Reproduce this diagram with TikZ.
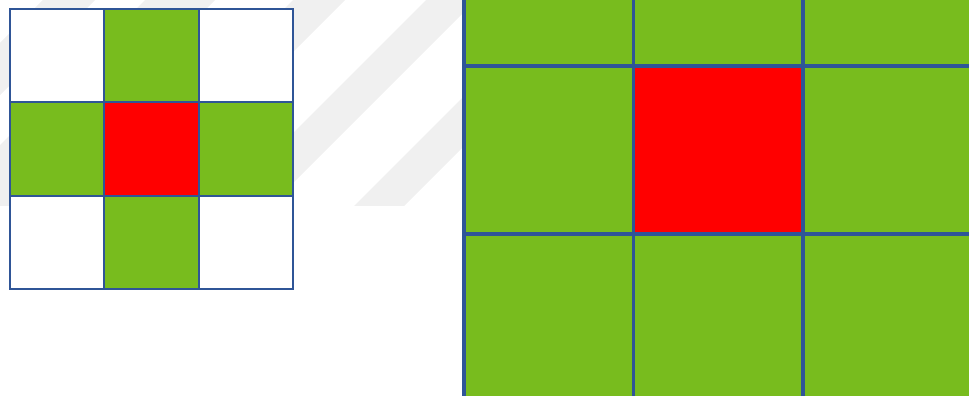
\documentclass[tikz,border=0pt]{standalone}
\definecolor{gridgreen}{RGB}{120,188,30}
\definecolor{gridred}{RGB}{255,0,0}
\definecolor{gridblue}{RGB}{47,85,151}
\definecolor{wmgray}{RGB}{240,240,240}
\begin{document}
\begin{tikzpicture}[x=1pt,y=-1pt,
  smallcell/.style={draw=gridblue,line width=1.3pt,inner sep=0pt,outer sep=0pt,
    minimum width=94.33pt,minimum height=93.33pt,anchor=north west},
  bigcell/.style={draw=gridblue,line width=3.5pt,inner sep=0pt,outer sep=0pt,
    minimum width=169.5pt,minimum height=168pt,anchor=north west},
  wm/.style={fill=wmgray,draw=none}]
\useasboundingbox (0,0) rectangle (969,396);
% faint watermark stripes
\begin{scope}
\clip (0,0) rectangle (464,205);
\foreach \a/\b in {43/95,145/215,293/345,426/476,560/610}{
  \fill[wm] (\a,0) -- (\b,0) -- (\b-420,420) -- (\a-420,420) -- cycle;
}
\end{scope}
% left 3x3 grid
\node[smallcell,fill=white]      (l11) at (10,9) {};
\node[smallcell,fill=gridgreen]  (l12) at (104.33,9) {};
\node[smallcell,fill=white]      (l13) at (198.67,9) {};
\node[smallcell,fill=gridgreen]  (l21) at (10,102.33) {};
\node[smallcell,fill=gridred]    (l22) at (104.33,102.33) {};
\node[smallcell,fill=gridgreen]  (l23) at (198.67,102.33) {};
\node[smallcell,fill=white]      (l31) at (10,195.67) {};
\node[smallcell,fill=gridgreen]  (l32) at (104.33,195.67) {};
\node[smallcell,fill=white]      (l33) at (198.67,195.67) {};
\draw[gridblue,line width=2pt] (l12.north west) -- (l32.south west);
\draw[gridblue,line width=2pt] (l12.north east) -- (l32.south east);
\draw[gridblue,line width=2pt] (l21.north west) -- (l23.north east);
\draw[gridblue,line width=2pt] (l21.south west) -- (l23.south east);
% right enlarged grid
\node[bigcell,fill=gridgreen] (r11) at (464,-102) {};
\node[bigcell,fill=gridgreen] (r12) at (633.5,-102) {};
\node[bigcell,fill=gridgreen] (r13) at (803,-102) {};
\node[bigcell,fill=gridgreen] (r21) at (464,66) {};
\node[bigcell,fill=gridred]   (r22) at (633.5,66) {};
\node[bigcell,fill=gridgreen] (r23) at (803,66) {};
\node[bigcell,fill=gridgreen] (r31) at (464,234) {};
\node[bigcell,fill=gridgreen] (r32) at (633.5,234) {};
\node[bigcell,fill=gridgreen] (r33) at (803,234) {};
\end{tikzpicture}
\end{document}
